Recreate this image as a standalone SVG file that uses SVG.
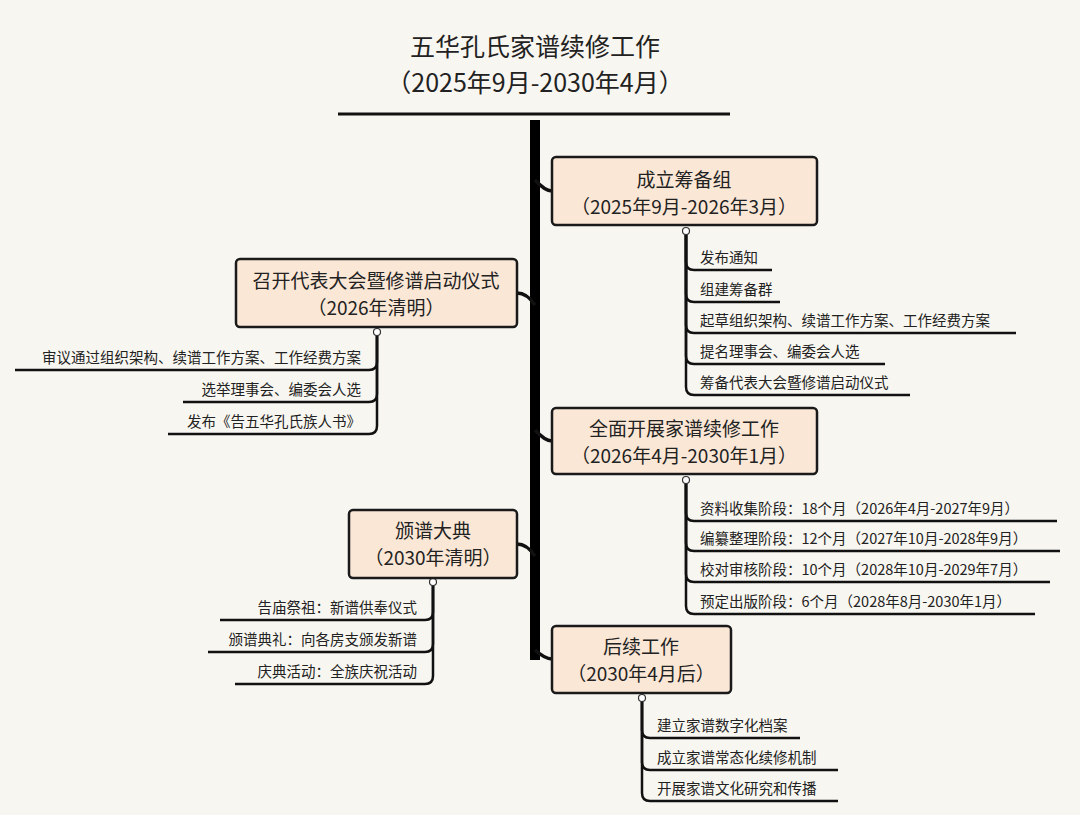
<svg xmlns="http://www.w3.org/2000/svg" width="1080" height="815" viewBox="0 0 1080 815">
<style>
text{font-family:"Noto Sans CJK SC","Noto Sans",sans-serif;fill:#222}
.nb{fill:#fbe7d6;stroke:#1a1a1a;stroke-width:2.5}
.nt{font-size:19px;text-anchor:middle}
.ct{font-size:14.5px}
.r{text-anchor:end}
.ln{fill:none;stroke:#111;stroke-width:2.5}
.br{fill:none;stroke:#111;stroke-width:3.5}
.dot{fill:#fff;stroke:#333;stroke-width:1.2}
</style>
<rect width="1080" height="815" fill="#f8f6f0"/>
<g id="title">
<text x="535" y="56" style="font-size:25px;text-anchor:middle">五华孔氏家谱续修工作</text>
<text x="535" y="92" style="font-size:25px;text-anchor:middle">（2025年9月-2030年4月）</text>
<line x1="338" y1="114" x2="730" y2="114" stroke="#111" stroke-width="3"/>
</g>
<g id="connectors">
<line x1="535" y1="120" x2="535" y2="660" stroke="#000" stroke-width="10"/>
<path class="br" d="M535,180 Q545,191 552,191"/>
<path class="br" d="M535,305 Q527,293 517,293"/>
<path class="br" d="M535,430 Q545,441 552,441"/>
<path class="br" d="M535,556 Q527,544 517,544"/>
<path class="br" d="M535,650 Q545,659 552,659"/>
<!-- node1 children -->
<path class="ln" d="M686,232 V262 Q686,270 694,270 H772"/>
<path class="ln" d="M686,232 V294 Q686,302 694,302 H780"/>
<path class="ln" d="M686,232 V325 Q686,333 694,333 H1016"/>
<path class="ln" d="M686,232 V356 Q686,364 694,364 H885"/>
<path class="ln" d="M686,232 V387 Q686,395 694,395 H910"/>
<circle class="dot" cx="686" cy="231" r="3.5"/>
<!-- node2 children -->
<path class="ln" d="M686,481 V513 Q686,521 694,521 H1057"/>
<path class="ln" d="M686,481 V543 Q686,551 694,551 H1060"/>
<path class="ln" d="M686,481 V574 Q686,582 694,582 H1050"/>
<path class="ln" d="M686,481 V606 Q686,614 694,614 H1035"/>
<circle class="dot" cx="686" cy="480" r="3.5"/>
<!-- node3 children -->
<path class="ln" d="M642,699 V730 Q642,738 650,738 H800"/>
<path class="ln" d="M642,699 V762 Q642,770 650,770 H838"/>
<path class="ln" d="M642,699 V793 Q642,801 650,801 H838"/>
<circle class="dot" cx="642" cy="698" r="3.5"/>
<!-- L1 children -->
<path class="ln" d="M377,333 V362 Q377,370 369,370 H15"/>
<path class="ln" d="M377,333 V394 Q377,402 369,402 H183"/>
<path class="ln" d="M377,333 V426 Q377,434 369,434 H168"/>
<circle class="dot" cx="377" cy="332" r="3.5"/>
<!-- L2 children -->
<path class="ln" d="M433,583 V612 Q433,620 425,620 H220"/>
<path class="ln" d="M433,583 V644 Q433,652 425,652 H208"/>
<path class="ln" d="M433,583 V676 Q433,684 425,684 H235"/>
<circle class="dot" cx="433" cy="582" r="3.5"/>
</g>
<g id="n1"><rect class="nb" x="552" y="157" width="265" height="68" rx="4"/>
<text class="nt" x="684" y="187">成立筹备组</text><text class="nt" x="684" y="214">（2025年9月-2026年3月）</text></g>
<g id="n1c" class="ct">
<text class="ct" x="700" y="263">发布通知</text>
<text class="ct" x="700" y="295">组建筹备群</text>
<text class="ct" x="700" y="326">起草组织架构、续谱工作方案、工作经费方案</text>
<text class="ct" x="700" y="357">提名理事会、编委会人选</text>
<text class="ct" x="700" y="388">筹备代表大会暨修谱启动仪式</text>
</g>
<g id="L1"><rect class="nb" x="236" y="259" width="281" height="68" rx="4"/>
<text class="nt" x="376" y="288">召开代表大会暨修谱启动仪式</text><text class="nt" x="376" y="315">（2026年清明）</text></g>
<g id="L1c">
<text class="ct r" x="361" y="363">审议通过组织架构、续谱工作方案、工作经费方案</text>
<text class="ct r" x="361" y="395">选举理事会、编委会人选</text>
<text class="ct r" x="361" y="427">发布《告五华孔氏族人书》</text>
</g>
<g id="n2"><rect class="nb" x="552" y="408" width="265" height="66" rx="4"/>
<text class="nt" x="684" y="436">全面开展家谱续修工作</text><text class="nt" x="684" y="463">（2026年4月-2030年1月）</text></g>
<g id="n2c">
<text class="ct" x="700" y="514">资料收集阶段：18个月（2026年4月-2027年9月）</text>
<text class="ct" x="700" y="544">编纂整理阶段：12个月（2027年10月-2028年9月）</text>
<text class="ct" x="700" y="575">校对审核阶段：10个月（2028年10月-2029年7月）</text>
<text class="ct" x="700" y="607">预定出版阶段：6个月（2028年8月-2030年1月）</text>
</g>
<g id="L2"><rect class="nb" x="349" y="510" width="168" height="68" rx="4"/>
<text class="nt" x="433" y="538">颁谱大典</text><text class="nt" x="433" y="565">（2030年清明）</text></g>
<g id="L2c">
<text class="ct r" x="417" y="613">告庙祭祖：新谱供奉仪式</text>
<text class="ct r" x="417" y="645">颁谱典礼：向各房支颁发新谱</text>
<text class="ct r" x="417" y="677">庆典活动：全族庆祝活动</text>
</g>
<g id="n3"><rect class="nb" x="552" y="626" width="179" height="67" rx="4"/>
<text class="nt" x="641" y="654">后续工作</text><text class="nt" x="641" y="681">（2030年4月后）</text></g>
<g id="n3c">
<text class="ct" x="657" y="731">建立家谱数字化档案</text>
<text class="ct" x="657" y="763">成立家谱常态化续修机制</text>
<text class="ct" x="657" y="794">开展家谱文化研究和传播</text>
</g>
</svg>
